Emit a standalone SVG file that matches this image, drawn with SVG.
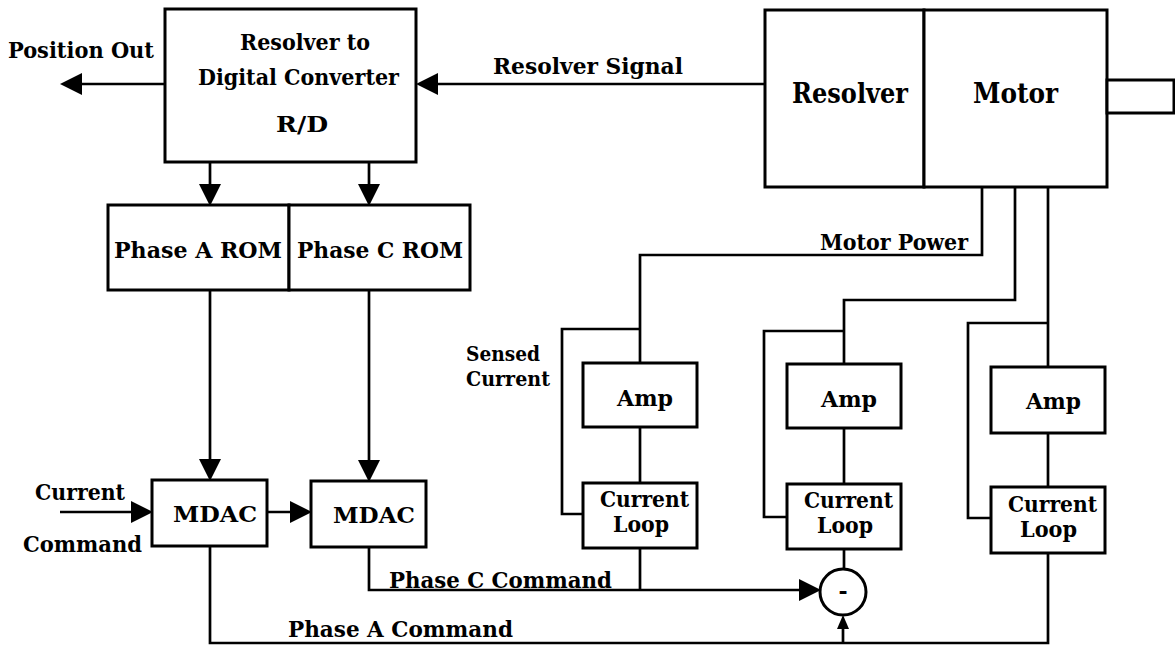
<svg xmlns="http://www.w3.org/2000/svg" width="1175" height="652" viewBox="0 0 1175 652">
<style>
  .box{fill:#fff;stroke:#000;stroke-width:3}
  .ln{fill:none;stroke:#000;stroke-width:2.7}
  .t{font-family:"DejaVu Serif","Liberation Serif",serif;font-weight:bold;font-size:22px;fill:#000}
  .big{font-size:27px}
  .sm{font-size:20px}
</style>
<defs>
  <marker id="ah" viewBox="0 0 22 22" refX="10" refY="11" markerWidth="22" markerHeight="22" markerUnits="userSpaceOnUse" orient="auto">
    <path d="M0,0 L22,11 L0,22 z" fill="#000"/>
  </marker>
  <marker id="ahs" viewBox="0 0 14 12" refX="6" refY="6" markerWidth="14" markerHeight="12" markerUnits="userSpaceOnUse" orient="auto">
    <path d="M0,0 L14,6 L0,12 z" fill="#000"/>
  </marker>
</defs>
<rect width="1175" height="652" fill="#fff"/>

<g id="connectors">
  <path class="ln" d="M165,84 H72" marker-end="url(#ah)"/>
  <path class="ln" d="M765,84 H428" marker-end="url(#ah)"/>
  <path class="ln" d="M210,162 V194" marker-end="url(#ah)"/>
  <path class="ln" d="M369,162 V194" marker-end="url(#ah)"/>
  <path class="ln" d="M210,290 V469" marker-end="url(#ah)"/>
  <path class="ln" d="M369,290 V470" marker-end="url(#ah)"/>
  <path class="ln" d="M60,512 H141" marker-end="url(#ah)"/>
  <path class="ln" d="M267,512 H300" marker-end="url(#ah)"/>
  <path class="ln" d="M210,546 V643 H1048 V553"/>
  <path class="ln" d="M843,643 V623" marker-end="url(#ahs)"/>
  <path class="ln" d="M369,547 V590 H809" marker-end="url(#ah)"/>
  <path class="ln" d="M640,548 V590"/>
  <path class="ln" d="M844,549 V569"/>
  <path class="ln" d="M982,187 V255 H640 V363"/>
  <path class="ln" d="M640,329 H562 V514 H583"/>
  <path class="ln" d="M1015,187 V300 H844 V364"/>
  <path class="ln" d="M844,331 H764 V517 H787"/>
  <path class="ln" d="M1048,187 V367"/>
  <path class="ln" d="M1048,323 H968 V518 H991"/>
  <path class="ln" d="M640,427 V483"/>
  <path class="ln" d="M844,428 V484"/>
  <path class="ln" d="M1048,433 V487"/>
</g>

<g id="labels">
  <text class="t" x="8" y="58" textLength="146" lengthAdjust="spacingAndGlyphs">Position Out</text>
  <text class="t" x="493" y="74" textLength="190" lengthAdjust="spacingAndGlyphs">Resolver Signal</text>
  <text class="t" x="820" y="250" textLength="148" lengthAdjust="spacingAndGlyphs">Motor Power</text>
  <text class="t sm" x="466" y="361" textLength="74" lengthAdjust="spacingAndGlyphs">Sensed</text>
  <text class="t sm" x="466" y="386" textLength="84" lengthAdjust="spacingAndGlyphs">Current</text>
  <text class="t" x="35" y="500" textLength="90" lengthAdjust="spacingAndGlyphs">Current</text>
  <text class="t" x="23" y="552" textLength="119" lengthAdjust="spacingAndGlyphs">Command</text>
  <text class="t" x="389" y="588" textLength="223" lengthAdjust="spacingAndGlyphs">Phase C Command</text>
  <text class="t" x="288" y="637" textLength="225" lengthAdjust="spacingAndGlyphs">Phase A Command</text>
</g>

<g id="rd">
  <rect class="box" x="165" y="9" width="251" height="153"/>
  <text class="t" x="240" y="50" textLength="130" lengthAdjust="spacingAndGlyphs">Resolver to</text>
  <text class="t" x="198" y="85" textLength="201" lengthAdjust="spacingAndGlyphs">Digital Converter</text>
  <text class="t" x="276" y="132" textLength="52" lengthAdjust="spacingAndGlyphs">R/D</text>
</g>

<g id="rom-a">
  <rect class="box" x="108" y="205" width="181" height="85"/>
  <text class="t" x="114" y="258" textLength="168" lengthAdjust="spacingAndGlyphs">Phase A ROM</text>
</g>
<g id="rom-c">
  <rect class="box" x="289" y="205" width="181" height="85"/>
  <text class="t" x="297" y="258" textLength="166" lengthAdjust="spacingAndGlyphs">Phase C ROM</text>
</g>

<g id="resolver">
  <rect class="box" x="765" y="10" width="159" height="177"/>
  <text class="t big" x="792" y="103" textLength="116" lengthAdjust="spacingAndGlyphs">Resolver</text>
</g>
<g id="motor">
  <rect class="box" x="924" y="10" width="183" height="177"/>
  <text class="t big" x="973" y="103" textLength="85" lengthAdjust="spacingAndGlyphs">Motor</text>
  <rect class="box" x="1107" y="80" width="67" height="33"/>
</g>

<g id="mdac-a">
  <rect class="box" x="152" y="480" width="115" height="66"/>
  <text class="t" x="173" y="522" textLength="84" lengthAdjust="spacingAndGlyphs">MDAC</text>
</g>
<g id="mdac-c">
  <rect class="box" x="311" y="481" width="115" height="66"/>
  <text class="t" x="333" y="523" textLength="82" lengthAdjust="spacingAndGlyphs">MDAC</text>
</g>

<g id="amp1">
  <rect class="box" x="583" y="363" width="114" height="64"/>
  <text class="t" x="617" y="406" textLength="56" lengthAdjust="spacingAndGlyphs">Amp</text>
</g>
<g id="amp2">
  <rect class="box" x="787" y="364" width="114" height="64"/>
  <text class="t" x="821" y="407" textLength="56" lengthAdjust="spacingAndGlyphs">Amp</text>
</g>
<g id="amp3">
  <rect class="box" x="991" y="367" width="114" height="66"/>
  <text class="t" x="1026" y="409" textLength="55" lengthAdjust="spacingAndGlyphs">Amp</text>
</g>

<g id="loop1">
  <rect class="box" x="583" y="483" width="114" height="65"/>
  <text class="t" x="600" y="507" textLength="89" lengthAdjust="spacingAndGlyphs">Current</text>
  <text class="t" x="613" y="532" textLength="56" lengthAdjust="spacingAndGlyphs">Loop</text>
</g>
<g id="loop2">
  <rect class="box" x="787" y="484" width="114" height="65"/>
  <text class="t" x="804" y="508" textLength="89" lengthAdjust="spacingAndGlyphs">Current</text>
  <text class="t" x="817" y="533" textLength="56" lengthAdjust="spacingAndGlyphs">Loop</text>
</g>
<g id="loop3">
  <rect class="box" x="991" y="487" width="114" height="66"/>
  <text class="t" x="1008" y="512" textLength="89" lengthAdjust="spacingAndGlyphs">Current</text>
  <text class="t" x="1020" y="537" textLength="57" lengthAdjust="spacingAndGlyphs">Loop</text>
</g>

<g id="sum">
  <circle cx="843" cy="592" r="23" fill="#fff" stroke="#000" stroke-width="3"/>
  <text class="t" x="843" y="599" text-anchor="middle">-</text>
</g>
</svg>
